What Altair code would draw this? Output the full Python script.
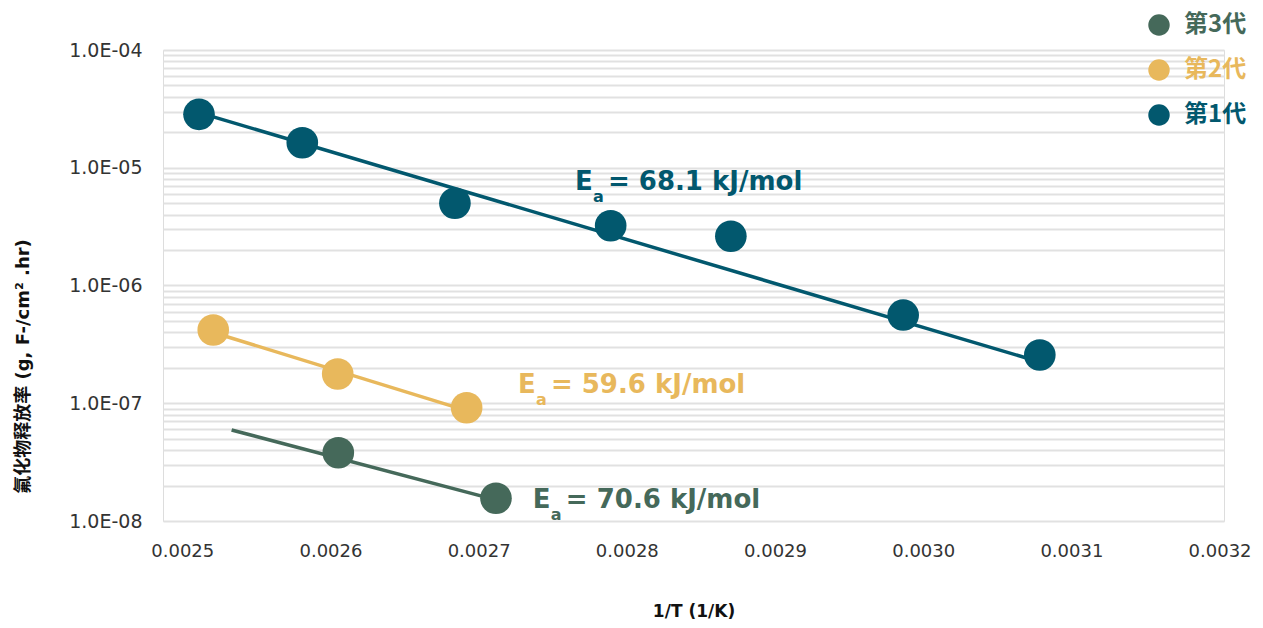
import altair as alt
import pandas as pd

# ---------------- data ----------------
series_names = ["第3代", "第2代", "第1代"]
series_colors = ["#45695a", "#e8b85c", "#02586e"]

g1_x = [0.0025113, 0.0025810, 0.0026840, 0.0027891, 0.0028702, 0.0029865, 0.0030787]
g1_y = [2.84e-5, 1.63e-5, 4.99e-6, 3.22e-6, 2.62e-6, 5.61e-7, 2.57e-7]
g2_x = [0.0025209, 0.0026049, 0.0026919]
g2_y = [4.19e-7, 1.77e-7, 9.16e-8]
g3_x = [0.0026053, 0.0027117]
g3_y = [3.80e-8, 1.56e-8]

# trend lines (end points)
t1_x = [0.0025113, 0.0030787]
t1_y = [2.94e-5, 2.24e-7]
t2_x = [0.0025209, 0.0026919]
t2_y = [3.99e-7, 8.67e-8]
t3_x = [0.0025333, 0.0027117]
t3_y = [5.93e-8, 1.51e-8]

# activation energy annotations
ea_series = ["第1代", "第2代", "第3代"]
ea_text = ["= 68.1 kJ/mol", "= 59.6 kJ/mol", "= 70.6 kJ/mol"]
ea_x = [0.002765, 0.0027265, 0.0027366]
ea_y = [6.47e-6, 1.22e-7, 1.29e-8]

x_ticks = [0.0025, 0.0026, 0.0027, 0.0028, 0.0029, 0.0030, 0.0031, 0.0032]
y_grid = [m * 10.0 ** e for e in range(-8, -4) for m in range(1, 10)] + [1e-4]

color_of = dict(zip(series_names, series_colors))

# ---------------- tables ----------------
pts = pd.DataFrame(
    {"x": g1_x + g2_x + g3_x,
     "y": g1_y + g2_y + g3_y,
     "series": ["第1代"] * len(g1_x) + ["第2代"] * len(g2_x) + ["第3代"] * len(g3_x)}
)
trends = {
    "第1代": pd.DataFrame({"x": t1_x, "y": t1_y}),
    "第2代": pd.DataFrame({"x": t2_x, "y": t2_y}),
    "第3代": pd.DataFrame({"x": t3_x, "y": t3_y}),
}
ann = pd.DataFrame({"x": ea_x, "y": ea_y, "series": ea_series, "rest": ea_text,
                    "E": ["E"] * 3, "a": ["a"] * 3})

xscale = alt.Scale(domain=[0.002487, 0.003203], nice=False, zero=False)
yscale = alt.Scale(type="log", domain=[1e-8, 1e-4], nice=False)

label_expr = ("abs(log(datum.value)/LN10 - round(log(datum.value)/LN10)) < 0.001 ? "
              "'1.0E-0' + toString(-round(log(datum.value)/LN10)) : ''")

x_enc = alt.X("x:Q", scale=xscale,
              axis=alt.Axis(values=x_ticks, format=".4f", grid=False, ticks=False, domain=False,
                            labelFont="DejaVu Sans", labelFontSize=18, labelColor="#333333",
                            labelPadding=21, labelFlush=False,
                            title="1/T (1/K)", titleFont="DejaVu Sans", titleFontSize=17,
                            titleFontWeight="bold", titleColor="#111111",
                            titleY=90, titleBaseline="middle"))
y_enc = alt.Y("y:Q", scale=yscale,
              axis=alt.Axis(values=y_grid, labelExpr=label_expr, grid=True, gridColor="#e1e1e1",
                            gridWidth=2, ticks=False, domain=False, labelOverlap=False,
                            labelFlush=False,
                            labelFont="DejaVu Sans", labelFontSize=19, labelColor="#333333",
                            labelPadding=21,
                            title="氟化物释放率 (g, F-/cm² .hr)",
                            titleFont="DejaVu Sans, Noto Sans CJK SC", titleFontSize=18,
                            titleFontWeight="bold", titleColor="#111111",
                            titleAngle=270, titleX=-140, titleY=316,
                            titleAlign="center", titleBaseline="middle"))

layers = []
first = True
for name in ["第1代", "第2代", "第3代"]:
    if first:
        enc_x, enc_y = x_enc, y_enc
        first = False
    else:
        enc_x, enc_y = "x:Q", "y:Q"
    layers.append(
        alt.Chart(trends[name]).mark_line(strokeWidth=3.5, color=color_of[name]).encode(
            x=enc_x, y=enc_y)
    )

color_expr = ("datum.label == '第1代' ? '#02586e' : "
              "(datum.label == '第2代' ? '#e8b85c' : '#45695a')")

points = alt.Chart(pts).mark_circle(size=1000, opacity=1).encode(
    x="x:Q", y="y:Q",
    color=alt.Color("series:N",
                    scale=alt.Scale(domain=series_names, range=series_colors),
                    legend=alt.Legend(title=None, orient="none", legendX=984, legendY=-37,
                                      symbolType="circle", symbolSize=460, symbolOpacity=1,
                                      symbolStrokeWidth=0,
                                      labelFont="Noto Sans CJK SC", labelFontSize=24,
                                      labelFontWeight="bold",
                                      labelColor={"expr": color_expr},
                                      rowPadding=21, labelOffset=13, padding=0)),
)
layers.append(points)

for name in ["第1代", "第2代", "第3代"]:
    sub = ann[ann["series"] == name]
    c = color_of[name]
    layers.append(alt.Chart(sub).mark_text(align="left", baseline="alphabetic", font="DejaVu Sans",
                                           fontSize=26, fontWeight="bold", color=c).encode(
        x="x:Q", y="y:Q", text="E:N"))
    layers.append(alt.Chart(sub).mark_text(align="left", baseline="alphabetic", font="DejaVu Sans",
                                           fontSize=16, fontWeight="bold", dx=18, dy=12,
                                           color=c).encode(
        x="x:Q", y="y:Q", text="a:N"))
    layers.append(alt.Chart(sub).mark_text(align="left", baseline="alphabetic", font="DejaVu Sans",
                                           fontSize=26, fontWeight="bold", dx=33,
                                           color=c).encode(
        x="x:Q", y="y:Q", text="rest:N"))

chart = alt.layer(*layers).properties(
    width=1061, height=471,
    autosize="none",
    padding={"left": 155, "top": 42, "right": 30, "bottom": 98},
).configure_view(stroke=None).configure(background="white")

chart.save("out.html", embed_options={"renderer": "svg", "actions": False})
